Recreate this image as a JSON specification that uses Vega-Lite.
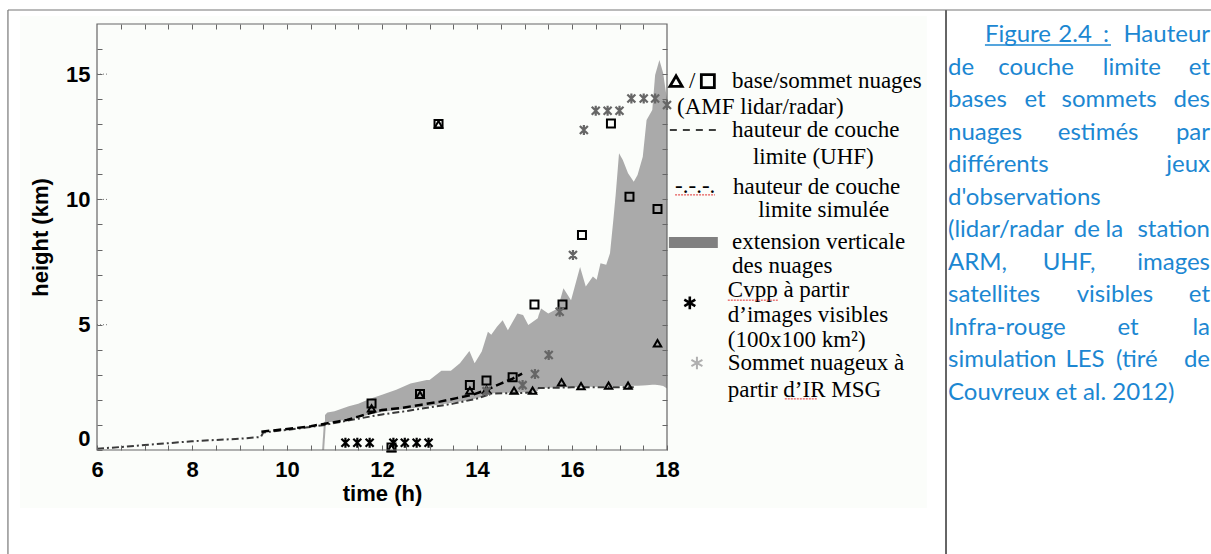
{
  "$schema": "https://vega.github.io/schema/vega-lite/v6.json",
  "width": 570,
  "height": 426,
  "autosize": {"type": "none"},
  "padding": {"left": 97, "top": 24, "right": 544, "bottom": 104},
  "background": "#ffffff",
  "config": {
    "view": {"stroke": null},
    "axis": {
      "labelFont": "Liberation Sans", "labelFontWeight": "bold", "labelFontSize": 22, "labelColor": "#000000",
      "titleFont": "Liberation Sans", "titleFontWeight": "bold", "titleFontSize": 22, "titleColor": "#000000",
      "tickColor": "#666666", "tickSize": -5, "domain": false, "grid": false
    }
  },
  "datasets": {
    "cloud": [
      {"t": 10.8, "lo": 1.1, "hi": 1.4}, {"t": 10.85, "lo": 1.1, "hi": 1.5}, {"t": 11.0, "lo": 1.15, "hi": 1.55},
      {"t": 11.3, "lo": 1.22, "hi": 1.75}, {"t": 11.5, "lo": 1.3, "hi": 1.85}, {"t": 11.75, "lo": 1.42, "hi": 2.05},
      {"t": 12.0, "lo": 1.52, "hi": 2.2}, {"t": 12.3, "lo": 1.6, "hi": 2.4}, {"t": 12.6, "lo": 1.66, "hi": 2.65},
      {"t": 12.94, "lo": 1.74, "hi": 2.79}, {"t": 13.0, "lo": 1.76, "hi": 2.79}, {"t": 13.25, "lo": 1.83, "hi": 3.16},
      {"t": 13.45, "lo": 1.88, "hi": 3.16}, {"t": 13.64, "lo": 1.94, "hi": 3.46}, {"t": 13.84, "lo": 2.0, "hi": 3.95},
      {"t": 13.95, "lo": 2.05, "hi": 3.46}, {"t": 14.1, "lo": 2.12, "hi": 3.93}, {"t": 14.23, "lo": 2.2, "hi": 4.72},
      {"t": 14.3, "lo": 2.25, "hi": 4.6}, {"t": 14.42, "lo": 2.27, "hi": 4.92}, {"t": 14.54, "lo": 2.28, "hi": 5.18},
      {"t": 14.65, "lo": 2.28, "hi": 4.78}, {"t": 14.85, "lo": 2.29, "hi": 5.45}, {"t": 14.97, "lo": 2.3, "hi": 5.39},
      {"t": 15.08, "lo": 2.3, "hi": 4.99}, {"t": 15.28, "lo": 2.35, "hi": 5.26}, {"t": 15.3, "lo": 2.48, "hi": 5.4},
      {"t": 15.35, "lo": 2.48, "hi": 5.65}, {"t": 15.5, "lo": 2.48, "hi": 5.45}, {"t": 15.7, "lo": 2.5, "hi": 5.65},
      {"t": 15.82, "lo": 2.5, "hi": 6.45}, {"t": 15.98, "lo": 2.5, "hi": 5.98}, {"t": 16.17, "lo": 2.5, "hi": 7.3},
      {"t": 16.29, "lo": 2.52, "hi": 6.52}, {"t": 16.44, "lo": 2.52, "hi": 6.92}, {"t": 16.52, "lo": 2.52, "hi": 6.79},
      {"t": 16.6, "lo": 2.53, "hi": 7.45}, {"t": 16.72, "lo": 2.53, "hi": 7.39}, {"t": 16.8, "lo": 2.54, "hi": 7.85},
      {"t": 16.87, "lo": 2.54, "hi": 9.18}, {"t": 16.92, "lo": 2.54, "hi": 10.2}, {"t": 16.99, "lo": 2.55, "hi": 11.84},
      {"t": 17.07, "lo": 2.55, "hi": 11.57}, {"t": 17.18, "lo": 2.55, "hi": 11.04}, {"t": 17.3, "lo": 2.56, "hi": 10.7},
      {"t": 17.38, "lo": 2.56, "hi": 10.97}, {"t": 17.49, "lo": 2.57, "hi": 11.7}, {"t": 17.57, "lo": 2.58, "hi": 13.17},
      {"t": 17.69, "lo": 2.6, "hi": 13.57}, {"t": 17.75, "lo": 2.6, "hi": 14.96}, {"t": 17.84, "lo": 2.58, "hi": 15.56},
      {"t": 17.92, "lo": 2.55, "hi": 15.03}, {"t": 17.96, "lo": 2.5, "hi": 14.5}, {"t": 18.0, "lo": 2.45, "hi": 14.0}
    ],
    "sim": [
      {"t": 6.0, "h": 0.05}, {"t": 6.5, "h": 0.12}, {"t": 7.0, "h": 0.2}, {"t": 7.5, "h": 0.27}, {"t": 8.0, "h": 0.35},
      {"t": 8.5, "h": 0.4}, {"t": 9.0, "h": 0.45}, {"t": 9.45, "h": 0.52}, {"t": 9.5, "h": 0.7}, {"t": 10.0, "h": 0.8},
      {"t": 10.5, "h": 0.92}, {"t": 10.8, "h": 1.0}, {"t": 11.0, "h": 1.08}, {"t": 11.5, "h": 1.25}, {"t": 12.0, "h": 1.42},
      {"t": 12.5, "h": 1.55}, {"t": 13.0, "h": 1.7}, {"t": 13.5, "h": 1.85}, {"t": 14.0, "h": 2.05}, {"t": 14.3, "h": 2.25},
      {"t": 15.0, "h": 2.28}, {"t": 15.25, "h": 2.3}, {"t": 15.3, "h": 2.47}, {"t": 16.0, "h": 2.5}, {"t": 17.3, "h": 2.5}
    ],
    "uhf": [
      {"t": 9.46, "h": 0.73}, {"t": 9.8, "h": 0.8}, {"t": 10.2, "h": 0.88}, {"t": 10.5, "h": 0.95}, {"t": 10.8, "h": 1.05},
      {"t": 11.05, "h": 1.13}, {"t": 11.26, "h": 1.2}, {"t": 11.5, "h": 1.33}, {"t": 11.75, "h": 1.47}, {"t": 12.0, "h": 1.6},
      {"t": 12.38, "h": 1.67}, {"t": 12.8, "h": 1.8}, {"t": 13.22, "h": 1.93}, {"t": 13.57, "h": 2.07}, {"t": 13.9, "h": 2.2},
      {"t": 14.2, "h": 2.4}, {"t": 14.5, "h": 2.65}, {"t": 14.75, "h": 2.85}, {"t": 14.95, "h": 3.05}
    ],
    "tops": [
      {"t": 11.78, "h": 1.86}, {"t": 12.8, "h": 2.23}, {"t": 13.85, "h": 2.59}, {"t": 14.2, "h": 2.77}, {"t": 14.75, "h": 2.9},
      {"t": 13.19, "h": 13.01}, {"t": 15.21, "h": 5.81}, {"t": 15.8, "h": 5.81}, {"t": 16.21, "h": 8.58}, {"t": 16.82, "h": 13.03},
      {"t": 17.21, "h": 10.11}, {"t": 17.8, "h": 9.62}, {"t": 12.2, "h": 0.1}
    ],
    "bases": [
      {"t": 11.78, "h": 1.66}, {"t": 12.8, "h": 2.2}, {"t": 13.85, "h": 2.37}, {"t": 14.2, "h": 2.4}, {"t": 14.78, "h": 2.37},
      {"t": 15.17, "h": 2.37}, {"t": 15.78, "h": 2.7}, {"t": 16.19, "h": 2.55}, {"t": 16.77, "h": 2.57}, {"t": 17.18, "h": 2.57},
      {"t": 17.8, "h": 4.26}, {"t": 13.19, "h": 13.0}, {"t": 12.2, "h": 0.08}
    ],
    "cvpp": [
      {"t": 11.23, "h": 0.29}, {"t": 11.48, "h": 0.29}, {"t": 11.74, "h": 0.29}, {"t": 12.24, "h": 0.29},
      {"t": 12.48, "h": 0.29}, {"t": 12.73, "h": 0.29}, {"t": 12.98, "h": 0.29}
    ],
    "msg": [
      {"t": 14.2, "h": 2.35}, {"t": 14.96, "h": 2.59}, {"t": 15.22, "h": 3.03}, {"t": 15.51, "h": 3.79}, {"t": 15.74, "h": 5.52},
      {"t": 16.02, "h": 7.78}, {"t": 16.25, "h": 12.77}, {"t": 16.5, "h": 13.54}, {"t": 16.75, "h": 13.54}, {"t": 17.0, "h": 13.54},
      {"t": 17.25, "h": 14.03}, {"t": 17.51, "h": 14.03}, {"t": 17.75, "h": 14.03}, {"t": 18.0, "h": 13.77}
    ],
    "marks5": [{"v": 5}, {"v": 10}, {"v": 15}],
    "legendText": [
      {"t": 19.37, "h": 14.72, "label": "base/sommet nuages"},
      {"t": 18.21, "h": 13.69, "label": "(AMF lidar/radar)"},
      {"t": 19.37, "h": 12.77, "label": "hauteur de couche"},
      {"t": 19.81, "h": 11.69, "label": "limite (UHF)"},
      {"t": 19.39, "h": 10.49, "label": "hauteur de couche"},
      {"t": 19.92, "h": 9.58, "label": "limite simulée"},
      {"t": 19.37, "h": 8.3, "label": "extension verticale"},
      {"t": 19.37, "h": 7.34, "label": "des nuages"},
      {"t": 19.28, "h": 6.38, "label": "Cvpp à partir"},
      {"t": 19.28, "h": 5.39, "label": "d’images visibles"},
      {"t": 19.28, "h": 4.39, "label": "(100x100 km²)"},
      {"t": 19.28, "h": 3.47, "label": "Sommet nuageux à"},
      {"t": 19.28, "h": 2.39, "label": "partir d’IR  MSG"}
    ],
    "spell": [
      {"t": 18.17, "t2": 19.01, "h": 10.18}, {"t": 19.28, "t2": 20.34, "h": 5.98}, {"t": 20.48, "t2": 21.16, "h": 2.04}
    ],
    "caption": [
      {"line": 1, "col": 0.141, "word": "Figure", "pos": "first"}, {"line": 1, "col": 0.485, "word": "2.4", "pos": "middle"},
      {"line": 1, "col": 0.603, "word": ":", "pos": "middle"}, {"line": 1, "col": 1, "word": "Hauteur", "pos": "last"},
      {"line": 2, "col": 0, "word": "de", "pos": "first"}, {"line": 2, "col": 0.336, "word": "couche", "pos": "middle"},
      {"line": 2, "col": 0.702, "word": "limite", "pos": "middle"}, {"line": 2, "col": 1, "word": "et", "pos": "last"},
      {"line": 3, "col": 0, "word": "bases", "pos": "first"}, {"line": 3, "col": 0.332, "word": "et", "pos": "middle"},
      {"line": 3, "col": 0.615, "word": "sommets", "pos": "middle"}, {"line": 3, "col": 1, "word": "des", "pos": "last"},
      {"line": 4, "col": 0, "word": "nuages", "pos": "first"}, {"line": 4, "col": 0.573, "word": "estimés", "pos": "middle"},
      {"line": 4, "col": 1, "word": "par", "pos": "last"},
      {"line": 5, "col": 0, "word": "différents", "pos": "first"}, {"line": 5, "col": 1, "word": "jeux", "pos": "last"},
      {"line": 6, "col": 0, "word": "d'observations", "pos": "first"},
      {"line": 7, "col": 0, "word": "(lidar/radar", "pos": "first"}, {"line": 7, "col": 0.53, "word": "de", "pos": "middle"},
      {"line": 7, "col": 0.635, "word": "la", "pos": "middle"}, {"line": 7, "col": 1, "word": "station", "pos": "last"},
      {"line": 8, "col": 0, "word": "ARM,", "pos": "first"}, {"line": 8, "col": 0.462, "word": "UHF,", "pos": "middle"},
      {"line": 8, "col": 1, "word": "images", "pos": "last"},
      {"line": 9, "col": 0, "word": "satellites", "pos": "first"}, {"line": 9, "col": 0.637, "word": "visibles", "pos": "middle"},
      {"line": 9, "col": 1, "word": "et", "pos": "last"},
      {"line": 10, "col": 0, "word": "Infra-rouge", "pos": "first"}, {"line": 10, "col": 0.687, "word": "et", "pos": "middle"},
      {"line": 10, "col": 1, "word": "la", "pos": "last"},
      {"line": 11, "col": 0, "word": "simulation", "pos": "first"}, {"line": 11, "col": 0.523, "word": "LES", "pos": "middle"},
      {"line": 11, "col": 0.721, "word": "(tiré", "pos": "middle"}, {"line": 11, "col": 1, "word": "de", "pos": "last"},
      {"line": 12, "col": 0, "word": "Couvreux et al. 2012)", "pos": "first"}
    ]
  },
  "resolve": {"scale": {"x": "independent", "y": "independent"}, "axis": {"x": "independent", "y": "independent"}},
  "layer": [
    {
      "resolve": {"axis": {"x": "independent", "y": "independent"}},
      "layer": [
        {
          "data": {"values": [{}]},
          "mark": {"type": "rect", "fill": "#fbfdfa"},
          "encoding": {
            "x": {"datum": 4.38, "type": "quantitative", "axis": null},
            "x2": {"datum": 23.47},
            "y": {"datum": 17.32, "type": "quantitative", "axis": null},
            "y2": {"datum": -2.31}
          }
        },
        {
          "data": {"name": "cloud"},
          "mark": {"type": "area", "color": "#aaaaaa", "opacity": 1},
          "encoding": {
            "x": {"field": "t", "type": "quantitative",
              "scale": {"domain": [6, 18], "nice": false, "zero": false},
              "axis": {"orient": "bottom", "title": "time (h)", "zindex": 2,
                "values": [6, 6.5, 7, 7.5, 8, 8.5, 9, 9.5, 10, 10.5, 11, 11.5, 12, 12.5, 13, 13.5, 14, 14.5, 15, 15.5, 16, 16.5, 17, 17.5, 18],
                "labelExpr": "datum.value % 2 === 0 ? format(datum.value, 'd') : ''",
                "labelPadding": 14, "titlePadding": 3, "labelFlush": false}},
            "y": {"field": "hi", "type": "quantitative",
              "scale": {"domain": [0, 17], "nice": false, "zero": false},
              "axis": {"orient": "left", "title": "height (km)", "zindex": 2,
                "values": [0, 1, 2, 3, 4, 5, 6, 7, 8, 9, 10, 11, 12, 13, 14, 15, 16],
                "labelExpr": "datum.value % 5 === 0 ? format(datum.value, 'd') : ''",
                "labelPadding": 12, "titlePadding": 13, "labelFlush": true}},
            "y2": {"field": "lo"}
          }
        },
        {
          "data": {"values": [{}]},
          "mark": {"type": "rule", "color": "#aaaaaa", "strokeWidth": 2},
          "encoding": {
            "x": {"datum": 10.76, "type": "quantitative", "axis": null},
            "x2": {"datum": 10.8},
            "y": {"datum": 0, "type": "quantitative", "axis": null},
            "y2": {"datum": 1.12}
          }
        },
        {
          "data": {"name": "sim"},
          "mark": {"type": "line", "color": "#3a3a3a", "strokeWidth": 2, "strokeDash": [7, 3, 2, 3]},
          "encoding": {
            "x": {"field": "t", "type": "quantitative", "axis": null},
            "y": {"field": "h", "type": "quantitative", "axis": null}
          }
        },
        {
          "data": {"name": "uhf"},
          "mark": {"type": "line", "color": "#000000", "strokeWidth": 2.5, "strokeDash": [8, 4]},
          "encoding": {
            "x": {"field": "t", "type": "quantitative",
              "axis": {"orient": "top", "title": null, "labels": false, "zindex": 2,
                "values": [6.5, 7, 7.5, 8, 8.5, 9, 9.5, 10, 10.5, 11, 11.5, 12, 12.5, 13, 13.5, 14, 14.5, 15, 15.5, 16, 16.5, 17, 17.5]}},
            "y": {"field": "h", "type": "quantitative",
              "axis": {"orient": "right", "title": null, "labels": false, "zindex": 2,
                "values": [1, 2, 3, 4, 5, 6, 7, 8, 9, 10, 11, 12, 13, 14, 15, 16]}}
          }
        },
        {
          "data": {"name": "marks5"},
          "mark": {"type": "rule", "color": "#777777", "strokeWidth": 1, "strokeDash": [1, 2]},
          "encoding": {
            "x": {"datum": 6, "type": "quantitative", "axis": null},
            "x2": {"datum": 6.22},
            "y": {"field": "v", "type": "quantitative", "axis": null}
          }
        },
        {
          "data": {"name": "tops"},
          "mark": {"type": "point", "shape": "square", "filled": false, "stroke": "#000000", "strokeWidth": 2, "size": 64, "opacity": 1},
          "encoding": {
            "x": {"field": "t", "type": "quantitative", "axis": null},
            "y": {"field": "h", "type": "quantitative", "axis": null}
          }
        },
        {
          "data": {"name": "bases"},
          "mark": {"type": "point", "shape": "triangle-up", "filled": false, "stroke": "#000000", "strokeWidth": 2, "size": 55, "opacity": 1},
          "encoding": {
            "x": {"field": "t", "type": "quantitative", "axis": null},
            "y": {"field": "h", "type": "quantitative", "axis": null}
          }
        },
        {
          "data": {"name": "cvpp"},
          "mark": {"type": "point", "shape": "M-0.8,-0.8L0.8,0.8M-0.8,0.8L0.8,-0.8M0,-1L0,1", "filled": false, "stroke": "#000000", "strokeWidth": 2.2, "size": 100, "opacity": 1},
          "encoding": {
            "x": {"field": "t", "type": "quantitative", "axis": null},
            "y": {"field": "h", "type": "quantitative", "axis": null}
          }
        },
        {
          "data": {"name": "msg"},
          "mark": {"type": "point", "shape": "M-0.8,-0.8L0.8,0.8M-0.8,0.8L0.8,-0.8M0,-1L0,1", "filled": false, "stroke": "#666666", "strokeWidth": 2.2, "size": 100, "opacity": 1},
          "encoding": {
            "x": {"field": "t", "type": "quantitative", "axis": null},
            "y": {"field": "h", "type": "quantitative", "axis": null}
          }
        },
        {
          "data": {"values": [{}]},
          "mark": {"type": "rect", "fill": null, "fillOpacity": 0, "stroke": "#666666", "strokeWidth": 1.2},
          "encoding": {
            "x": {"datum": 6, "type": "quantitative", "axis": null},
            "x2": {"datum": 18},
            "y": {"datum": 0, "type": "quantitative", "axis": null},
            "y2": {"datum": 17}
          }
        },
        {
          "data": {"name": "legendText"},
          "mark": {"type": "text", "font": "Liberation Serif", "fontSize": 23, "align": "left", "baseline": "middle", "color": "#000000"},
          "encoding": {
            "x": {"field": "t", "type": "quantitative", "axis": null},
            "y": {"field": "h", "type": "quantitative", "axis": null},
            "text": {"field": "label"}
          }
        },
        {
          "data": {"values": [{}]},
          "mark": {"type": "point", "shape": "triangle-up", "filled": false, "stroke": "#000000", "strokeWidth": 2.8, "size": 150, "opacity": 1},
          "encoding": {
            "x": {"datum": 18.19, "type": "quantitative", "axis": null},
            "y": {"datum": 14.72, "type": "quantitative", "axis": null}
          }
        },
        {
          "data": {"values": [{}]},
          "mark": {"type": "text", "text": "/", "font": "Liberation Serif", "fontSize": 23, "align": "center", "baseline": "middle"},
          "encoding": {
            "x": {"datum": 18.53, "type": "quantitative", "axis": null},
            "y": {"datum": 14.72, "type": "quantitative", "axis": null}
          }
        },
        {
          "data": {"values": [{}]},
          "mark": {"type": "point", "shape": "square", "filled": false, "stroke": "#000000", "strokeWidth": 2.8, "size": 170, "opacity": 1},
          "encoding": {
            "x": {"datum": 18.86, "type": "quantitative", "axis": null},
            "y": {"datum": 14.72, "type": "quantitative", "axis": null}
          }
        },
        {
          "data": {"values": [{}]},
          "mark": {"type": "rule", "color": "#000000", "strokeWidth": 1.5, "strokeDash": [7, 6]},
          "encoding": {
            "x": {"datum": 18.06, "type": "quantitative", "axis": null},
            "x2": {"datum": 19.12},
            "y": {"datum": 12.77, "type": "quantitative", "axis": null}
          }
        },
        {
          "data": {"values": [{}]},
          "mark": {"type": "text", "text": "-.-.-.", "font": "Liberation Serif", "fontSize": 23, "align": "left", "baseline": "middle"},
          "encoding": {
            "x": {"datum": 18.17, "type": "quantitative", "axis": null},
            "y": {"datum": 10.53, "type": "quantitative", "axis": null}
          }
        },
        {
          "data": {"values": [{}]},
          "mark": {"type": "rect", "fill": "#808080"},
          "encoding": {
            "x": {"datum": 18.04, "type": "quantitative", "axis": null},
            "x2": {"datum": 19.07},
            "y": {"datum": 8.5, "type": "quantitative", "axis": null},
            "y2": {"datum": 8.06}
          }
        },
        {
          "data": {"values": [{}]},
          "mark": {"type": "point", "shape": "M0,-1L0,1M-0.87,-0.5L0.87,0.5M-0.87,0.5L0.87,-0.5", "filled": false, "stroke": "#000000", "strokeWidth": 2.6, "size": 160, "opacity": 1},
          "encoding": {
            "x": {"datum": 18.48, "type": "quantitative", "axis": null},
            "y": {"datum": 5.87, "type": "quantitative", "axis": null}
          }
        },
        {
          "data": {"values": [{}]},
          "mark": {"type": "point", "shape": "M0,-1L0,1M-0.87,-0.5L0.87,0.5M-0.87,0.5L0.87,-0.5", "filled": false, "stroke": "#b0b0b0", "strokeWidth": 2, "size": 160, "opacity": 1},
          "encoding": {
            "x": {"datum": 18.63, "type": "quantitative", "axis": null},
            "y": {"datum": 3.47, "type": "quantitative", "axis": null}
          }
        },
        {
          "data": {"name": "spell"},
          "mark": {"type": "rule", "color": "#e03030", "strokeWidth": 1, "strokeDash": [2, 1]},
          "encoding": {
            "x": {"field": "t", "type": "quantitative", "axis": null},
            "x2": {"field": "t2"},
            "y": {"field": "h", "type": "quantitative", "axis": null}
          }
        }
      ]
    },
    {
      "layer": [
        {
          "data": {"name": "caption"},
          "transform": [{"filter": "datum.pos === 'first'"}],
          "mark": {"type": "text", "font": "Lato", "fontSize": 24, "align": "left", "baseline": "middle", "color": "#1c87d2"},
          "encoding": {
            "x": {"field": "col", "type": "quantitative", "axis": null,
              "scale": {"domain": [0, 1], "range": [851, 1113], "nice": false, "zero": false}},
            "y": {"field": "line", "type": "quantitative", "axis": null,
              "scale": {"domain": [1, 12], "range": [11, 369], "nice": false, "zero": false}},
            "text": {"field": "word"}
          }
        },
        {
          "data": {"name": "caption"},
          "transform": [{"filter": "datum.pos === 'middle'"}],
          "mark": {"type": "text", "font": "Lato", "fontSize": 24, "align": "center", "baseline": "middle", "color": "#1c87d2"},
          "encoding": {
            "x": {"field": "col", "type": "quantitative", "axis": null},
            "y": {"field": "line", "type": "quantitative", "axis": null},
            "text": {"field": "word"}
          }
        },
        {
          "data": {"name": "caption"},
          "transform": [{"filter": "datum.pos === 'last'"}],
          "mark": {"type": "text", "font": "Lato", "fontSize": 24, "align": "right", "baseline": "middle", "color": "#1c87d2"},
          "encoding": {
            "x": {"field": "col", "type": "quantitative", "axis": null},
            "y": {"field": "line", "type": "quantitative", "axis": null},
            "text": {"field": "word"}
          }
        },
        {
          "data": {"values": [{}]},
          "mark": {"type": "rule", "color": "#1c87d2", "strokeWidth": 1.5},
          "encoding": {
            "x": {"datum": 0.141, "type": "quantitative", "axis": null},
            "x2": {"datum": 0.622},
            "y": {"datum": 1.31, "type": "quantitative", "axis": null}
          }
        },
        {
          "data": {"values": [{}]},
          "mark": {"type": "rule", "color": "#555555", "strokeWidth": 1.8},
          "encoding": {
            "x": {"datum": -0.0076, "type": "quantitative", "axis": null},
            "y": {"datum": 0.232, "type": "quantitative", "axis": null},
            "y2": {"datum": 17.5}
          }
        },
        {
          "data": {"values": [{}]},
          "mark": {"type": "rule", "color": "#777777", "strokeWidth": 1.2},
          "encoding": {
            "x": {"datum": -3.588, "type": "quantitative", "axis": null},
            "y": {"datum": 0.232, "type": "quantitative", "axis": null},
            "y2": {"datum": 17.5}
          }
        },
        {
          "data": {"values": [{}]},
          "mark": {"type": "rule", "color": "#777777", "strokeWidth": 1.2},
          "encoding": {
            "x": {"datum": -3.588, "type": "quantitative", "axis": null},
            "x2": {"datum": 1.01},
            "y": {"datum": 0.232, "type": "quantitative", "axis": null}
          }
        }
      ]
    }
  ]
}
